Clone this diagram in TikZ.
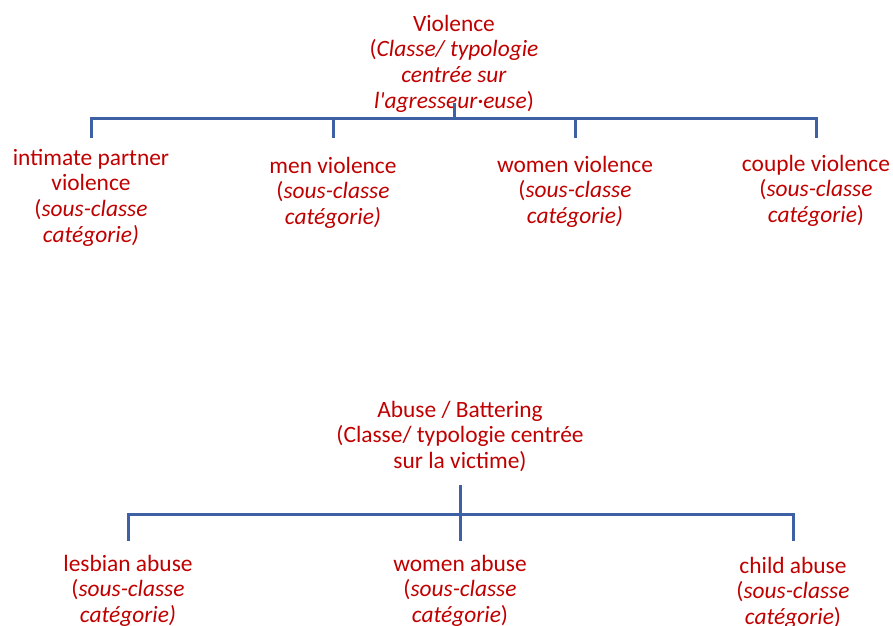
\documentclass[tikz,border=0pt]{standalone}
\usepackage{fontspec}
\setmainfont{Carlito}
\definecolor{labelred}{RGB}{192,0,0}
\definecolor{barblue}{RGB}{62,96,165}
\tikzset{
  lbl/.style={anchor=base, align=center, inner sep=0pt, text=labelred,
    font=\fontsize{23.4}{25.8}\selectfont},
  bar/.style={draw=barblue, line width=3pt}
}
\begin{document}
\begin{tikzpicture}[x=1pt,y=-1pt]
% \clip (0,0) rectangle (893,625);
\useasboundingbox (0,0) rectangle (893,625);

% Top class: violence (nodes sit on the baseline of their last line)
\node[lbl] (vio) at (454,108.4) {Violence\\(\textit{Classe/ typologie}\\\textit{centrée sur}\\\textit{l\textquotesingle agresseur·euse})};%
\node[lbl] (ipv) at (91,242.4) {intimate partner\\violence\\(\textit{sous-classe}\\\textit{catégorie)}};%
\node[lbl] (mv) at (333,224.6) {men violence\\(\textit{sous-classe}\\\textit{catégorie)}};%
\node[lbl] (wv) at (575,223.6) {women violence\\(\textit{sous-classe}\\\textit{catégorie)}};%
\node[lbl] (cv) at (816,222.6) {couple violence\\(\textit{sous-classe}\\\textit{catégorie})};%

% Joints of the top tree
\coordinate (vioStem) at (454,103);%
\coordinate (vioBar) at (454,118);%
\coordinate (ipvTop) at (91,138);%
\coordinate (mvTop) at (333,138);%
\coordinate (wvTop) at (575,138);%
\coordinate (cvTop) at (816,138);%

% Drawing top tree
\draw [bar] (vioStem) -- (vioBar);%
\draw [bar] (ipvTop) -- (ipvTop |- vioBar) -- (cvTop |- vioBar) -- (cvTop);%
\draw [bar] (mvTop) -- (mvTop |- vioBar);%
\draw [bar] (wvTop) -- (wvTop |- vioBar);%

% Bottom class: abuse
\node[lbl] (abu) at (460,468.6) {Abuse / Battering\\(Classe/ typologie centrée\\sur la victime)};%
\node[lbl] (lab) at (128,622.6) {lesbian abuse\\(\textit{sous-classe}\\\textit{catégorie)}};%
\node[lbl] (wab) at (460,622.6) {women abuse\\(\textit{sous-classe}\\\textit{catégorie})};%
\node[lbl] (cab) at (793,624.6) {child abuse\\(\textit{sous-classe}\\\textit{catégorie})};%

% Joints of the bottom tree
\coordinate (abuStem) at (460,485);%
\coordinate (abuBar) at (460,514);%
\coordinate (labTop) at (128,541);%
\coordinate (wabTop) at (460,541);%
\coordinate (cabTop) at (793,541);%

% Drawing bottom tree
\draw [bar] (abuStem) -- (wabTop);%
\draw [bar] (labTop) -- (labTop |- abuBar) -- (cabTop |- abuBar) -- (cabTop);%
\end{tikzpicture}
\end{document}
